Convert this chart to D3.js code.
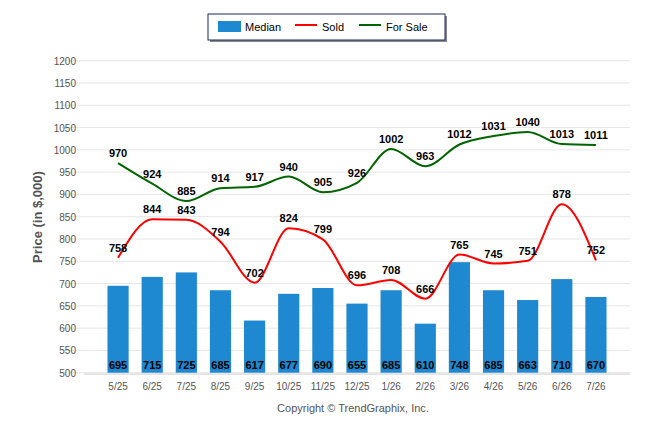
<!DOCTYPE html>
<html><head><meta charset="utf-8">
<script src="https://cdn.jsdelivr.net/npm/d3@7"></script>
<style>body{margin:0;background:#fff;font-family:"Liberation Sans",Arial,sans-serif}</style>
</head><body><svg id="chart" width="646" height="434"></svg>
<script>
var months = ["5/25","6/25","7/25","8/25","9/25","10/25","11/25","12/25","1/26","2/26","3/26","4/26","5/26","6/26","7/26"];
var median = [695,715,725,685,617,677,690,655,685,610,748,685,663,710,670];
var sold = [758,844,843,794,702,824,799,696,708,666,765,745,751,878,752];
var forSale = [970,924,885,914,917,940,905,926,1002,963,1012,1031,1040,1013,1011];
var yTicks = d3.range(500, 1201, 50);

var svg = d3.select("#chart");
var x = d3.scaleBand().domain(months).range([101, 613]).paddingInner(0.38).paddingOuter(0.19);
var y = d3.scaleLinear().domain([500, 1200]).range([372.7, 60.7]);
var cx = d => x(d) + x.bandwidth() / 2;

// grid
svg.append("g").selectAll("line").data(yTicks).join("line")
  .attr("x1", 62).attr("x2", 630).attr("y1", d => y(d)).attr("y2", d => y(d))
  .attr("stroke", "#e6e6e6");
svg.append("g").selectAll("text").data(yTicks).join("text")
  .attr("x", 76).attr("y", d => y(d) + 4).attr("text-anchor", "end")
  .attr("font-size", 10).attr("fill", "#555").text(d => d);
svg.append("line").attr("x1", 84).attr("x2", 630).attr("y1", 374).attr("y2", 374).attr("stroke", "#ccc");
svg.append("g").selectAll("text").data(months).join("text")
  .attr("x", d => cx(d)).attr("y", 390).attr("text-anchor", "middle")
  .attr("font-size", 10).attr("fill", "#555").text(d => d);

svg.append("text").attr("transform", "translate(42,217) rotate(-90)").attr("text-anchor", "middle")
  .attr("font-size", 13).attr("font-weight", "bold").attr("fill", "#555").text("Price (in $,000)");

// bars
svg.append("g").selectAll("rect").data(median).join("rect")
  .attr("x", (d, i) => x(months[i])).attr("width", x.bandwidth())
  .attr("y", d => y(d)).attr("height", d => y(500) - y(d)).attr("fill", "#1e88d0");
svg.append("g").selectAll("text").data(median).join("text")
  .attr("x", (d, i) => cx(months[i])).attr("y", 369).attr("text-anchor", "middle")
  .attr("font-size", 11).attr("font-weight", "bold").attr("fill", "#000").text(d => d);

// lines
var line = d3.line().x((d, i) => cx(months[i])).y(d => y(d)).curve(d3.curveMonotoneX);
function drawSeries(vals, color) {
  svg.append("path").datum(vals).attr("d", line).attr("fill", "none")
    .attr("stroke", color).attr("stroke-width", 2);
  svg.append("g").selectAll("text").data(vals).join("text")
    .attr("x", (d, i) => cx(months[i])).attr("y", d => y(d) - 6).attr("text-anchor", "middle")
    .attr("font-size", 11).attr("font-weight", "bold").attr("fill", "#000").text(d => d);
}
drawSeries(sold, "#ff0000");
drawSeries(forSale, "#006400");

// legend
var lg = svg.append("g");
lg.append("rect").attr("x", 210).attr("y", 16).attr("width", 237).attr("height", 26).attr("fill", "#888");
lg.append("rect").attr("x", 208).attr("y", 14).attr("width", 237).attr("height", 26).attr("fill", "#fff").attr("stroke", "#1a2a5a");
lg.append("rect").attr("x", 218).attr("y", 21).attr("width", 23).attr("height", 11).attr("fill", "#1e88d0");
lg.append("text").attr("x", 245).attr("y", 31).attr("font-size", 11).text("Median");
lg.append("line").attr("x1", 295).attr("x2", 317).attr("y1", 25).attr("y2", 25).attr("stroke", "#ff0000").attr("stroke-width", 2);
lg.append("text").attr("x", 322).attr("y", 31).attr("font-size", 11).text("Sold");
lg.append("line").attr("x1", 359).attr("x2", 381).attr("y1", 25).attr("y2", 25).attr("stroke", "#006400").attr("stroke-width", 2);
lg.append("text").attr("x", 386).attr("y", 31).attr("font-size", 11).text("For Sale");

svg.append("text").attr("x", 353).attr("y", 412).attr("text-anchor", "middle")
  .attr("font-size", 11).attr("fill", "#555").text("Copyright \u00A9 TrendGraphix, Inc.");
</script></body></html>
